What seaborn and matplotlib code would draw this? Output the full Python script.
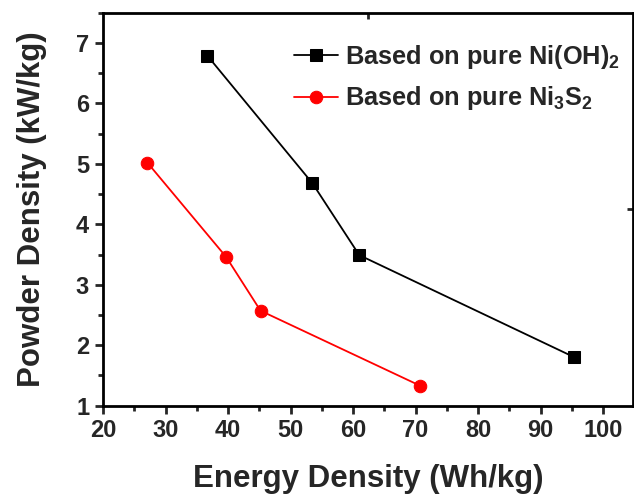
import matplotlib
matplotlib.use("Agg")
import matplotlib.pyplot as plt
import seaborn as sns
import pandas as pd
from matplotlib.ticker import MultipleLocator

# data
ni_oh_energy = [36.7, 53.5, 61.0, 95.4]
ni_oh_power = [6.79, 4.68, 3.49, 1.80]
ni3s2_energy = [27.1, 39.7, 45.2, 70.7]
ni3s2_power = [5.02, 3.46, 2.57, 1.33]
series_labels = ["Based on pure Ni(OH)$_2$", "Based on pure Ni$_3$S$_2$"]
x_ticks = [20, 30, 40, 50, 60, 70, 80, 90, 100]
y_ticks = [1, 2, 3, 4, 5, 6, 7]

sns.set_style("white")
plt.rcParams["font.family"] = ["Liberation Sans", "DejaVu Sans"]
plt.rcParams["font.weight"] = "bold"
plt.rcParams["axes.labelweight"] = "bold"
plt.rcParams["mathtext.fontset"] = "custom"
plt.rcParams["mathtext.bf"] = "Liberation Sans:bold"
plt.rcParams["mathtext.rm"] = "Liberation Sans:bold"
plt.rcParams["mathtext.default"] = "bf"

fig = plt.figure(figsize=(6.34, 4.94), dpi=100)
ax = fig.add_axes([0.1625, 0.179, 0.836, 0.795])

df1 = pd.DataFrame({"x": ni_oh_energy, "y": ni_oh_power})
df2 = pd.DataFrame({"x": ni3s2_energy, "y": ni3s2_power})
sns.lineplot(data=df1, x="x", y="y", sort=False, color="black", marker="s",
             markersize=8, markeredgecolor="black", linewidth=1.3, ax=ax,
             label=series_labels[0])
sns.lineplot(data=df2, x="x", y="y", sort=False, color="#ff0000", marker="o",
             markersize=9, markeredgecolor="#ff0000", linewidth=1.3, ax=ax,
             label=series_labels[1])

ax.set_xlim(20, 104.8)
ax.set_ylim(1, 7.5)
ax.set_xticks(x_ticks, [str(v) for v in x_ticks], fontweight="bold", fontsize=17)
ax.set_yticks(y_ticks, [str(v) for v in y_ticks], fontweight="bold", fontsize=17)
ax.xaxis.set_minor_locator(MultipleLocator(5))
ax.yaxis.set_minor_locator(MultipleLocator(0.5))
ax.tick_params(which="major", direction="out", length=6, width=2,
               bottom=True, left=True, pad=4)
ax.tick_params(which="minor", direction="out", length=3.5, width=2,
               bottom=True, left=True)
for s in ax.spines.values():
    s.set_linewidth(2)
    s.set_color("black")

ax.set_xlabel("Energy Density (Wh/kg)", fontsize=22.5, fontweight="bold")
ax.set_ylabel("Powder Density (kW/kg)", fontsize=22.5, fontweight="bold")
ax.xaxis.set_label_coords(0.5, -0.148)
ax.yaxis.set_label_coords(-0.105, 0.5)

# small inner marks on top and right spines
sec_x = ax.secondary_xaxis("top")
sec_x.set_xticks([62.4])
sec_x.set_xticklabels([""])
sec_x.tick_params(direction="in", length=4, width=2)
sec_x.spines["top"].set_visible(False)
sec_y = ax.secondary_yaxis("right")
sec_y.set_yticks([4.25])
sec_y.set_yticklabels([""])
sec_y.tick_params(direction="in", length=4, width=2)
sec_y.spines["right"].set_visible(False)

leg = ax.legend(loc="upper right", frameon=False, fontsize=18.3,
                handlelength=1.73, handletextpad=0.3, labelspacing=0.52,
                bbox_to_anchor=(1.0095, 0.968), borderaxespad=0.3)
for t in leg.get_texts():
    t.set_fontweight("bold")

fig.savefig("out.png", dpi=100)
